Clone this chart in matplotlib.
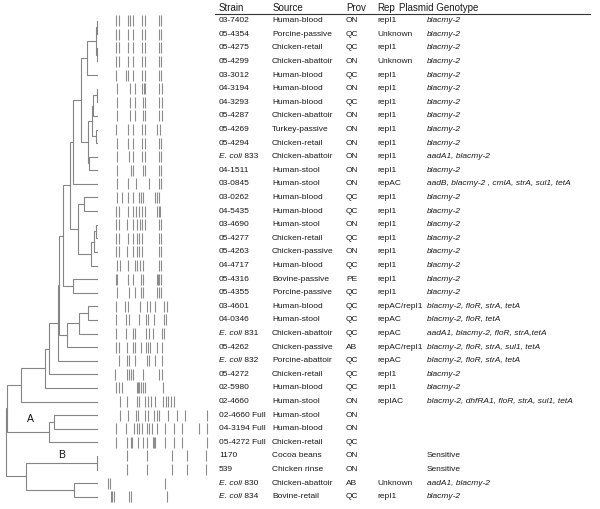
import matplotlib
matplotlib.use('Agg')
import matplotlib.pyplot as plt

plt.rcParams['font.family'] = ['Liberation Sans', 'DejaVu Sans']

# ---- table data ----
strains = ["03-7402", "05-4354", "05-4275", "05-4299", "03-3012", "04-3194",
           "04-3293", "05-4287", "05-4269", "05-4294", "E. coli 833", "04-1511",
           "03-0845", "03-0262", "04-5435", "03-4690", "05-4277", "05-4263",
           "04-4717", "05-4316", "05-4355", "03-4601", "04-0346", "E. coli 831",
           "05-4262", "E. coli 832", "05-4272", "02-5980", "02-4660",
           "02-4660 Full", "04-3194 Full", "05-4272 Full", "1170", "539",
           "E. coli 830", "E. coli 834"]
sources = ["Human-blood", "Porcine-passive", "Chicken-retail", "Chicken-abattoir",
           "Human-blood", "Human-blood", "Human-blood", "Chicken-abattoir",
           "Turkey-passive", "Chicken-retail", "Chicken-abattoir", "Human-stool",
           "Human-stool", "Human-blood", "Human-blood", "Human-stool",
           "Chicken-retail", "Chicken-passive", "Human-blood", "Bovine-passive",
           "Porcine-passive", "Human-blood", "Human-stool", "Chicken-abattoir",
           "Chicken-passive", "Porcine-abattoir", "Chicken-retail", "Human-blood",
           "Human-stool", "Human-stool", "Human-blood", "Chicken-retail",
           "Cocoa beans", "Chicken rinse", "Chicken-abattoir", "Bovine-retail"]
provs = ["ON", "QC", "QC", "ON", "QC", "ON", "QC", "ON", "ON", "ON", "ON", "ON",
         "ON", "QC", "QC", "ON", "QC", "ON", "QC", "PE", "QC", "QC", "QC", "QC",
         "AB", "QC", "QC", "QC", "ON", "ON", "ON", "QC", "ON", "ON", "AB", "QC"]
reps = ["repI1", "Unknown", "repI1", "Unknown", "repI1", "repI1", "repI1", "repI1",
        "repI1", "repI1", "repI1", "repI1", "repAC", "repI1", "repI1", "repI1",
        "repI1", "repI1", "repI1", "repI1", "repI1", "repAC/repI1", "repAC",
        "repAC", "repAC/repI1", "repAC", "repI1", "repI1", "repIAC", "", "", "",
        "", "", "Unknown", "repI1"]
genotypes = ["blacmy-2"] * 10 + [
    "aadA1, blacmy-2", "blacmy-2", "aadB, blacmy-2 , cmlA, strA, sul1, tetA"] + \
    ["blacmy-2"] * 8 + [
    "blacmy-2, floR, strA, tetA", "blacmy-2, floR, tetA",
    "aadA1, blacmy-2, floR, strA,tetA", "blacmy-2, floR, strA, sul1, tetA",
    "blacmy-2, floR, strA, tetA", "blacmy-2", "blacmy-2",
    "blacmy-2, dhfRA1, floR, strA, sul1, tetA", "", "", "",
    "Sensitive", "Sensitive", "aadA1, blacmy-2", "blacmy-2"]

# ---- PFGE band positions (distance along lane) ----
bands = [
    [16, 19, 27.7, 30.3, 33.3, 42, 44.7, 58.7, 61.3],
    [16, 19, 27.7, 33.3, 42, 44.7, 58.7, 61.3],
    [16, 19, 27.7, 33.3, 42, 44.7, 58.7, 61.3],
    [16, 19, 27.7, 33.3, 42, 44.7, 59.3, 61.3],
    [16, 25.7, 27.7, 33.3, 42, 44.7, 58.7, 61.3],
    [17, 30, 35, 42.3, 43.5, 44.7, 58.7, 61.5],
    [17, 30, 35, 42.5, 45, 59, 62],
    [17, 30, 35, 42.5, 45, 59, 62],
    [16, 27.7, 33.3, 42, 44.7, 56.7, 60],
    [16.7, 28.3, 33.3, 42, 44.7, 58.7, 61.3],
    [17.3, 28.7, 33.3, 42, 44.7, 58.7, 61.3],
    [16.7, 30.7, 32.7, 42.7, 45.3, 58.7, 61.3],
    [17.3, 28.3, 36, 48.7, 58.7, 61.3],
    [16.7, 22.3, 28.3, 33.3, 39.3, 41.3, 43.3, 54.7, 56.7, 58.7],
    [16, 18.7, 28, 33.3, 36, 39.3, 42, 44.7, 56.7, 58.7, 60],
    [16, 18.7, 27.3, 33.3, 37.3, 40, 42, 44.7, 58.7, 61.3],
    [16, 18.7, 28, 33.3, 36.7, 39.3, 42, 58.7, 61.3],
    [16, 18.7, 27.3, 33.3, 36.7, 39.3, 42, 58.7, 61.3],
    [17.3, 20, 28, 34.7, 37.3, 40, 42.7, 58.7, 61.3],
    [15.5, 16.5, 28, 33.3, 40.7, 42.7, 56.7, 57.5, 59.3, 61.3],
    [16.7, 29.3, 34.7, 40.7, 42.7, 56.7, 58.7, 61.3],
    [16, 25, 28, 40, 47, 49.5, 55, 64, 66.5],
    [16, 26, 28.5, 39, 46, 48, 53.5, 63.5, 65.5],
    [16, 26, 32.7, 34.7, 46, 48.7, 53.3, 62, 64],
    [16, 18.7, 26.7, 32.7, 34.7, 40.7, 46, 48, 50, 56.7, 62],
    [18.7, 27.3, 28.7, 34.7, 46.7, 49.3, 55.3, 62],
    [15, 26.5, 28.5, 30.5, 33, 42.5, 58.5, 61.5],
    [16, 18.7, 21.7, 36.7, 38, 39.3, 41.3, 43.3, 45.3, 63],
    [20, 27.3, 36.7, 38.7, 45.3, 48, 50.7, 55, 63, 65.7, 68.3, 71, 73.7],
    [20, 28, 36, 38, 45, 48, 54, 56.5, 59, 68, 77, 85, 107],
    [16, 26, 34, 37.3, 39.3, 42, 46.7, 49.3, 52, 57.3, 65.3, 74, 82, 98.7, 107],
    [16, 26.5, 30.5, 32.3, 37.5, 42.5, 47, 52.7, 54, 55.3, 65.3, 74, 82, 107],
    [27, 47.3, 71.7, 87, 106],
    [27, 47.3, 71.7, 87, 106],
    [8, 10, 65],
    [10.5, 12, 13.5, 28.5, 30.5, 66.5],
]

# ---- dendrogram linkage: (left, right, distance); ids >= 36 are earlier merges ----
linkage = [
    (0, 1, 0.5), (2, 3, 0.5), (36, 37, 1.5), (38, 4, 10.3),
    (5, 6, 0.5), (40, 7, 3.7), (8, 9, 1.0), (41, 42, 5.5),
    (10, 11, 7.7), (43, 44, 9.0), (39, 45, 16.0), (46, 12, 23.7),
    (13, 14, 12.7), (15, 16, 1.3), (49, 17, 3.0), (50, 18, 6.3),
    (48, 51, 18.7), (47, 52, 27.0), (19, 20, 23.7), (53, 54, 33.7),
    (21, 22, 9.3), (56, 23, 17.7), (57, 24, 30.3), (55, 58, 37.7),
    (59, 25, 39.5), (60, 26, 47.7), (61, 27, 52.0), (62, 28, 76.3),
    (29, 30, 43.0), (64, 31, 47.7), (63, 65, 89.7),
    (32, 33, 0.3), (34, 35, 23.0), (67, 68, 71.0), (66, 69, 91.0),
]

n = len(strains)
fig = plt.figure(figsize=(6.0, 5.09), dpi=100)
ax = fig.add_axes([0, 0, 1, 1])
ax.set_xlim(0, 600)
ax.set_ylim((509 - 20.7) / 13.6, -20.7 / 13.6)
ax.axis('off')

# dendrogram
leaf_x = 97
line_col = '#858585'
pos = {i: (leaf_x, float(i)) for i in range(n)}
for k, (a, b, d) in enumerate(linkage):
    xm = leaf_x - d
    xa, ya = pos[a]
    xb, yb = pos[b]
    ax.plot([xa, xm, xm, xb], [ya, ya, yb, yb], color=line_col, lw=0.8,
            solid_joinstyle='miter')
    pos[n + k] = (xm, (ya + yb) / 2)

ax.text(30, 29.3, 'A', fontsize=7.5, ha='center', va='center', color='#111111')
ax.text(62, 31.9, 'B', fontsize=7.5, ha='center', va='center', color='#111111')

# gel lanes
gel_x0 = 100
for i, row in enumerate(bands):
    ax.vlines([gel_x0 + p for p in row], i - 0.4, i + 0.4, color='#8c8c8c', lw=0.8)

# table
fs = 6
tc = '#1a1a1a'
hdr_y = -0.95
for x, h in [(219, 'Strain'), (273, 'Source'), (346, 'Prov'), (377, 'Rep'),
             (399, 'Plasmid Genotype')]:
    ax.text(x, hdr_y, h, fontsize=7, va='center', color=tc)
ax.plot([215, 590], [-0.49, -0.49], color='#333333', lw=0.8)

for i in range(n):
    s = strains[i]
    if s.startswith('E. coli'):
        t = ax.text(219, i, 'E. coli', fontsize=fs, style='italic', va='center',
                    color=tc)
        ax.annotate(' ' + s.split()[-1], xy=(1, 0.5), xycoords=t, va='center',
                    fontsize=fs, color=tc)
    else:
        ax.text(219, i, s, fontsize=fs, va='center', color=tc)
    ax.text(272, i, sources[i], fontsize=fs, va='center', color=tc)
    ax.text(346, i, provs[i], fontsize=fs, va='center', color=tc)
    ax.text(377, i, reps[i], fontsize=fs, va='center', color=tc)
    g = genotypes[i]
    if g == 'Sensitive':
        ax.text(427, i, g, fontsize=fs, va='center', color=tc)
    elif g:
        ax.text(427, i, g, fontsize=fs, va='center', style='italic', color=tc)

fig.savefig('out.png', dpi=100, facecolor='white')
